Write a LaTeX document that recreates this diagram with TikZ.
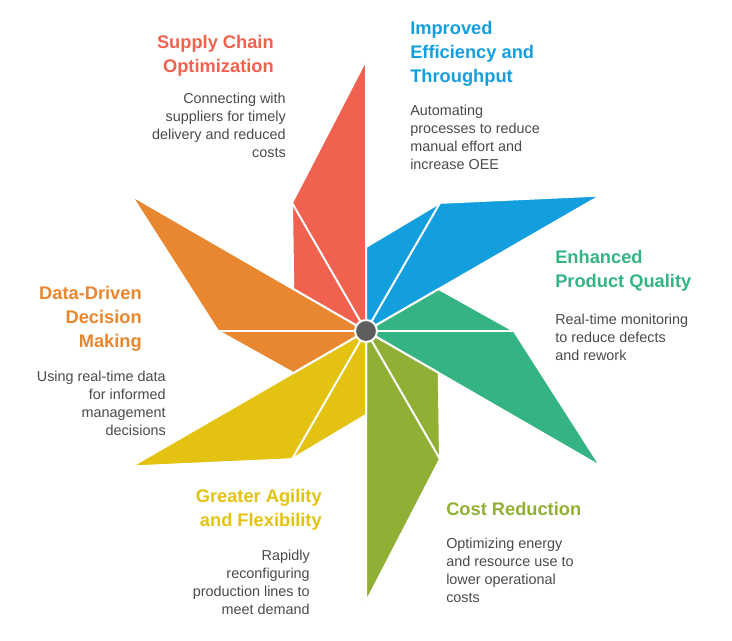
\documentclass[tikz,border=0pt]{standalone}
\usepackage{fontspec}
\setmainfont{Liberation Sans}
\usetikzlibrary{calc}
\definecolor{cred}{HTML}{F0614F}
\definecolor{cblue}{HTML}{139FDE}
\definecolor{cgreen}{HTML}{33B482}
\definecolor{colive}{HTML}{8FB034}
\definecolor{cyellow}{HTML}{E4C211}
\definecolor{corange}{HTML}{E8872F}
\definecolor{ctext}{HTML}{4A4A4A}
\tikzset{
  title/.style={inner sep=0pt, font=\fontsize{13.7}{18}\selectfont\bfseries},
  body/.style={inner sep=0pt, text=ctext, font=\fontsize{10.8}{13.5}\selectfont},
}
\begin{document}
\begin{tikzpicture}[x=0.75pt,y=0.75pt]
\useasboundingbox (0,0) rectangle (732,640);

\coordinate (c) at (366,309);

\foreach \a/\col in {90/cred,30/cblue,-30/cgreen,-90/colive,-150/cyellow,150/corange}{
  \fill [\col, draw=white, line width=1.5pt, line join=round]
    (c) -- ($(c)+(\a:271)$) -- ($(c)+(\a+30:148)$)
    -- ($(c)+(\a+60:84)$) -- cycle;
  \draw [white, line width=1.5pt] (c) -- ($(c)+(\a+30:148)$);
}
\fill [fill=gray!20!black!70, draw=white, line width=1.5pt] (c) circle (11);

% titles
\node [title, text=cred, anchor=north east, align=right] (t1) at (274,605) {Supply Chain\\Optimization};
\node [body, anchor=north east, align=right] (b1) at (286,547) {Connecting with\\suppliers for timely\\delivery and reduced\\costs};

\node [title, text=cblue, anchor=north west, align=left] (t2) at (410,619) {Improved\\Efficiency and\\Throughput};
\node [body, anchor=north west, align=left] (b2) at (410,535) {Automating\\processes to reduce\\manual effort and\\increase OEE};

\node [title, text=cgreen, anchor=north west, align=left] (t3) at (555,390) {Enhanced\\Product Quality};
\node [body, anchor=north west, align=left] (b3) at (555,326) {Real-time monitoring\\to reduce defects\\and rework};

\node [title, text=corange, anchor=north east, align=right] (t6) at (142,354) {Data-Driven\\Decision\\Making};
\node [body, anchor=north east, align=right] (b6) at (166,269) {Using real-time data\\for informed\\management\\decisions};

\node [title, text=colive, anchor=north west, align=left] (t4) at (446,138) {Cost Reduction};
\node [body, anchor=north west, align=left] (b4) at (446,102) {Optimizing energy\\and resource use to\\lower operational\\costs};

\node [title, text=cyellow, anchor=north east, align=right] (t5) at (322,151) {Greater Agility\\and Flexibility};
\node [body, anchor=north east, align=right] (b5) at (310,90) {Rapidly\\reconfiguring\\production lines to\\meet demand};
\end{tikzpicture}
\end{document}
